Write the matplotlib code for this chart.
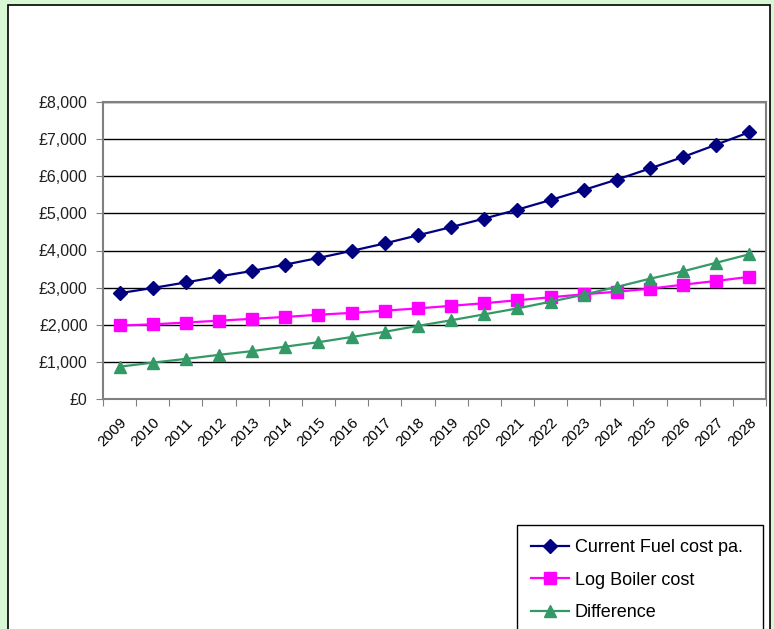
import matplotlib.pyplot as plt
from matplotlib.patches import Rectangle
from matplotlib.ticker import FuncFormatter

years = [str(y) for y in range(2009, 2029)]
fuel_cost = [2850, 2990, 3140, 3300, 3450, 3620, 3800, 3990, 4190, 4410,
             4630, 4860, 5100, 5360, 5630, 5910, 6210, 6520, 6850, 7190]
log_boiler = [1980, 2010, 2060, 2110, 2160, 2210, 2270, 2320, 2380, 2440,
              2510, 2580, 2660, 2740, 2820, 2890, 2970, 3080, 3180, 3290]
difference = [870, 980, 1080, 1190, 1290, 1410, 1530, 1670, 1810, 1970,
              2120, 2280, 2440, 2620, 2810, 3020, 3240, 3440, 3670, 3900]

plt.rcParams['font.family'] = ['Liberation Sans', 'DejaVu Sans']

fig = plt.figure(figsize=(7.74, 6.29), dpi=100)
fig.patch.set_facecolor('#d8f7d4')
# white chart area with black border (behind the axes)
fig.patches.append(Rectangle((8 / 774, -0.01), 762 / 774, 1 - 5 / 629 + 0.01,
                             transform=fig.transFigure, facecolor='white',
                             edgecolor='black', linewidth=1.2, zorder=-10))

ax = fig.add_axes([103 / 774, 1 - 399 / 629, 663 / 774, 297 / 629])
ax.set_facecolor('white')

x = list(range(len(years)))
ax.plot(x, fuel_cost, color='#000080', marker='D', markersize=7,
        linewidth=1.6, label='Current Fuel cost pa.', zorder=3)
ax.plot(x, log_boiler, color='#ff00ff', marker='s', markersize=8,
        linewidth=1.6, label='Log Boiler cost', zorder=3)
ax.plot(x, difference, color='#339966', marker='^', markersize=8.5,
        linewidth=1.6, label='Difference', zorder=3)

ax.set_xlim(-0.5, len(years) - 0.5)
ax.set_ylim(0, 8000)
ax.set_yticks(range(0, 8001, 1000))
ax.yaxis.set_major_formatter(FuncFormatter(lambda v, p: '£{:,.0f}'.format(v)))
ax.grid(axis='y', color='black', linewidth=1)
ax.set_axisbelow(True)

# ticks at category boundaries, labels at centres
ax.set_xticks([i - 0.5 for i in range(len(years) + 1)])
ax.set_xticklabels([])
ax.set_xticks(x, minor=True)
ax.set_xticklabels(years, minor=True, rotation=45, ha='right',
                   rotation_mode='anchor', fontsize=11)
ax.tick_params(axis='x', which='minor', length=0, pad=12)
ax.tick_params(axis='x', which='major', length=5, direction='out', color='#808080')
ax.tick_params(axis='y', length=5, direction='out', color='#808080', pad=6,
               labelsize=11.5, labelcolor='#202020')

for s in ax.spines.values():
    s.set_color('#808080')
    s.set_linewidth(1.5)

fig.legend(loc='upper left', bbox_to_anchor=(517 / 774, 1 - 525 / 629, 246 / 774, 0.0),
           mode='expand', fontsize=13, frameon=True, fancybox=False,
           edgecolor='black', framealpha=1, handlelength=2.1, handletextpad=0.3,
           labelspacing=0.85, borderaxespad=0, borderpad=0.8)

fig.savefig('out.png', dpi=100, facecolor=fig.get_facecolor())
